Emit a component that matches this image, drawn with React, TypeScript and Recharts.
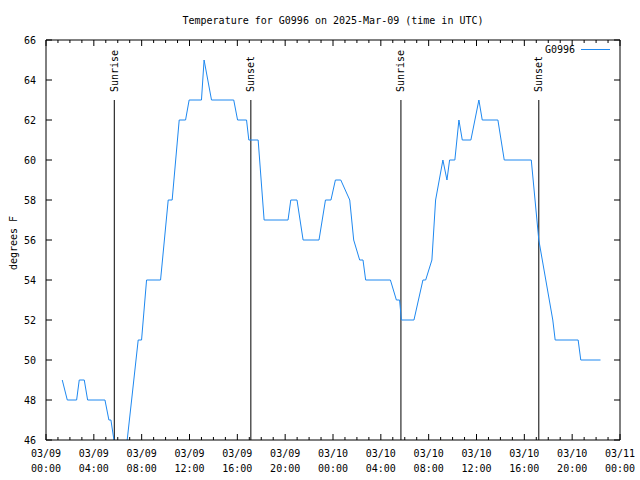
import React from "react";
import { LineChart, Line, XAxis, YAxis, ReferenceLine, Legend } from "recharts";

// hours since 03/09 00:00 UTC
const hours = [
  1.36, 1.78, 2.56, 2.78, 3.2, 3.48, 4.93, 5.26, 5.43, 5.68, 6.0, 6.5, 6.79, 7.16, 7.71, 7.99, 8.41, 9.58,
  10.22, 10.55, 11.14, 11.67, 11.97, 13.0, 13.22, 13.84, 15.7, 16.02, 16.77, 16.96, 17.74, 18.24, 20.24,
  20.47, 20.99, 21.5, 22.83, 23.37, 23.83, 24.2, 24.65, 25.4, 25.73, 26.23, 26.51, 26.73, 28.8, 29.3,
  29.57, 29.72, 30.77, 31.52, 31.75, 32.27, 32.58, 33.19, 33.53, 33.75, 34.19, 34.53, 34.81, 35.53,
  36.2, 36.48, 37.79, 38.32, 40.58, 41.21, 42.38, 42.58, 44.5, 44.72, 46.37,
];
const tempF = [
  49, 48, 48, 49, 49, 48, 48, 47, 47, 46, 45, 45, 46, 48, 51, 51, 54, 54,
  58, 58, 62, 62, 63, 63, 65, 63, 63, 62, 62, 61, 61, 57, 57,
  58, 58, 56, 56, 58, 58, 59, 59, 58, 56, 55, 55, 54, 54, 53,
  53, 52, 52, 54, 54, 55, 58, 60, 59, 60, 60, 62, 61, 61,
  63, 62, 62, 60, 60, 56, 52, 51, 51, 50, 50,
];

const sunHours = [5.71, 17.13, 29.68, 41.21];
const sunLabels = ["Sunrise", "Sunset", "Sunrise", "Sunset"];

const majorHours = [0, 4, 8, 12, 16, 20, 24, 28, 32, 36, 40, 44, 48];
const xTickDates = ["03/09", "03/09", "03/09", "03/09", "03/09", "03/09", "03/10", "03/10", "03/10", "03/10", "03/10", "03/10", "03/11"];
const xTickTimes = ["00:00", "04:00", "08:00", "12:00", "16:00", "20:00", "00:00", "04:00", "08:00", "12:00", "16:00", "20:00", "00:00"];
const yTicks = [46, 48, 50, 52, 54, 56, 58, 60, 62, 64, 66];

const allHourTicks = Array.from({ length: 49 }, (_, i) => i);
const data = hours.map((h, i) => ({ h, temp: tempF[i] }));

const FONT = "'DejaVu Sans Mono', monospace";
const BLUE = "#1e88f0";

const BottomTick = (props: any) => {
  const { x, y, payload } = props;
  const i = majorHours.indexOf(payload.value);
  const major = i >= 0;
  return (
    <g>
      <line x1={x} x2={x} y1={y} y2={y - (major ? 6 : 3)} stroke="#000" />
      {major && (
        <text x={x} y={y} textAnchor="middle" fontFamily={FONT} fontSize={10} fill="#000">
          <tspan x={x} dy={17}>{xTickDates[i]}</tspan>
          <tspan x={x} dy={15}>{xTickTimes[i]}</tspan>
        </text>
      )}
    </g>
  );
};

const TopTick = (props: any) => {
  const { x, y, payload } = props;
  const major = majorHours.includes(payload.value);
  return <line x1={x} x2={x} y1={y} y2={y + (major ? 6 : 3)} stroke="#000" />;
};

const LeftTick = (props: any) => {
  const { x, y, payload } = props;
  return (
    <g>
      <line x1={x} x2={x + 6} y1={y} y2={y} stroke="#000" />
      <text x={x - 10} y={y + 3.5} textAnchor="end" fontFamily={FONT} fontSize={10} fill="#000">
        {payload.value}
      </text>
    </g>
  );
};

const RightTick = (props: any) => {
  const { x, y } = props;
  return <line x1={x} x2={x - 6} y1={y} y2={y} stroke="#000" />;
};

const SunLabel = (props: any) => {
  const { viewBox, text } = props;
  const px = viewBox.x + 3.5;
  const py = viewBox.y - 8;
  return (
    <text x={px} y={py} transform={`rotate(-90 ${px} ${py})`} textAnchor="start" fontFamily={FONT} fontSize={10} fill="#000">
      {text}
    </text>
  );
};

const TitleLabel = () => (
  <text x={333} y={23.5} textAnchor="middle" fontFamily={FONT} fontSize={10} fill="#000">
    Temperature for G0996 on 2025-Mar-09 (time in UTC)
  </text>
);

const YTitle = () => (
  <text x={17} y={243} transform="rotate(-90 17 243)" textAnchor="middle" fontFamily={FONT} fontSize={10} fill="#000">
    degrees F
  </text>
);

const LegendBox = () => (
  <div style={{ position: "relative", width: 640, height: 60 }}>
    <span
      style={{
        position: "absolute",
        right: 640 - 575,
        top: 44,
        fontFamily: FONT,
        fontSize: 10,
        lineHeight: "12px",
        color: "#000",
        whiteSpace: "nowrap",
      }}
    >
      G0996
    </span>
    <svg style={{ position: "absolute", left: 580, top: 44 }} width={32} height={10}>
      <line x1={1} x2={30} y1={5.5} y2={5.5} stroke={BLUE} />
    </svg>
  </div>
);

export default function App() {
  return (
    <div style={{ position: "absolute", left: 0, top: 0, width: 640, height: 480, background: "#fff" }}>
      <LineChart width={640} height={480} data={data} margin={{ top: 30, right: 10, bottom: 0, left: 0 }}>
        <XAxis
          dataKey="h"
          type="number"
          domain={[0, 48]}
          ticks={allHourTicks}
          interval={0}
          tick={<BottomTick />}
          tickLine={false}
          tickSize={0}
          tickMargin={0}
          axisLine={{ stroke: "#000" }}
          height={40}
          allowDataOverflow
        />
        <XAxis
          xAxisId="top"
          dataKey="h"
          orientation="top"
          type="number"
          domain={[0, 48]}
          ticks={allHourTicks}
          interval={0}
          tick={<TopTick />}
          tickLine={false}
          tickSize={0}
          tickMargin={0}
          axisLine={{ stroke: "#000" }}
          height={10}
          allowDataOverflow
          label={<TitleLabel />}
        />
        <YAxis
          type="number"
          domain={[46, 66]}
          ticks={yTicks}
          interval={0}
          tick={<LeftTick />}
          tickLine={false}
          tickSize={0}
          tickMargin={0}
          axisLine={{ stroke: "#000" }}
          width={46}
          allowDataOverflow
          label={<YTitle />}
        />
        <YAxis
          yAxisId="right"
          orientation="right"
          type="number"
          domain={[46, 66]}
          ticks={yTicks}
          interval={0}
          tick={<RightTick />}
          tickLine={false}
          tickSize={0}
          tickMargin={0}
          axisLine={{ stroke: "#000" }}
          width={10}
          allowDataOverflow
        />
        {sunHours.map((t, i) => (
          <ReferenceLine
            key={i}
            segment={[
              { x: t, y: 63 },
              { x: t, y: 46 },
            ]}
            stroke="#000"
            strokeWidth={1}
            label={<SunLabel text={sunLabels[i]} />}
          />
        ))}
        <Line
          type="linear"
          dataKey="temp"
          name="G0996"
          stroke={BLUE}
          strokeWidth={1}
          dot={false}
          activeDot={false}
          isAnimationActive={false}
        />
        <Legend
          layout="vertical"
          align="center"
          verticalAlign="middle"
          content={<LegendBox />}
          wrapperStyle={{ left: 0, top: 0, width: 640, height: 60, margin: 0, padding: 0 }}
        />
      </LineChart>
    </div>
  );
}
